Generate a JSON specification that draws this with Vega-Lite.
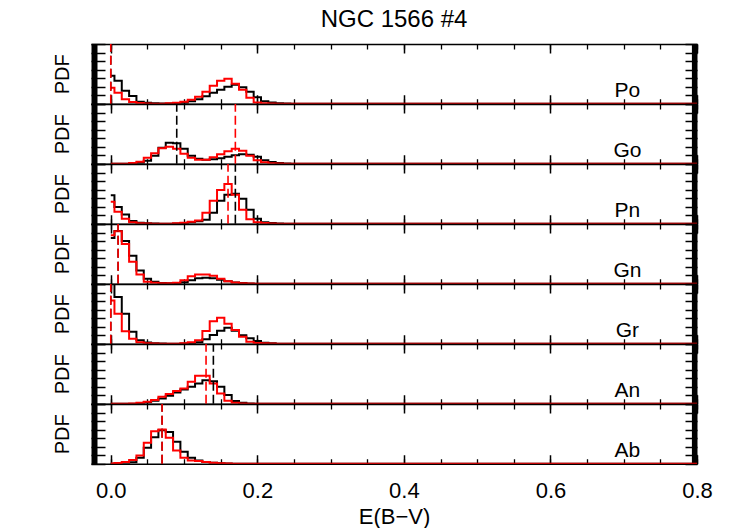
{
"$schema": "https://vega.github.io/schema/vega-lite/v6.json",
"padding": {"left": 52, "top": 8, "right": 5, "bottom": 5},
"title": {"text": "NGC 1566 #4", "fontSize": 24, "fontWeight": "normal", "font": "Liberation Sans", "color": "#000000", "offset": 11, "anchor": "middle", "frame": "group"},
"spacing": 0,
"bounds": "flush",
"config": {"view": {"stroke": null}, "font": "Liberation Sans", "axis": {"grid": false}},
"datasets": {
"lab": [{"p": "Po"}, {"p": "Go"}, {"p": "Pn"}, {"p": "Gn"}, {"p": "Gr"}, {"p": "An"}, {"p": "Ab"}],
"d": [
{"p": "Po", "s": "b", "v": 0.0}, {"p": "Po", "s": "r", "v": 0.0},
{"p": "Go", "s": "b", "v": 0.09}, {"p": "Go", "s": "r", "v": 0.17},
{"p": "Pn", "s": "b", "v": 0.17}, {"p": "Pn", "s": "r", "v": 0.16},
{"p": "Gn", "s": "b", "v": 0.01}, {"p": "Gn", "s": "r", "v": 0.01},
{"p": "Gr", "s": "b", "v": 0.0}, {"p": "Gr", "s": "r", "v": 0.0},
{"p": "An", "s": "b", "v": 0.14}, {"p": "An", "s": "r", "v": 0.13},
{"p": "Ab", "s": "b", "v": 0.07}, {"p": "Ab", "s": "r", "v": 0.07}
],
"h": [
{"p":"Po","s":"b","x":0,"y":28},{"p":"Po","s":"b","x":0.01,"y":23},{"p":"Po","s":"b","x":0.02,"y":13},{"p":"Po","s":"b","x":0.03,"y":7.7},{"p":"Po","s":"b","x":0.04,"y":2},{"p":"Po","s":"b","x":0.05,"y":1},{"p":"Po","s":"b","x":0.06,"y":0.5},{"p":"Po","s":"b","x":0.07,"y":0.3},{"p":"Po","s":"b","x":0.08,"y":0.3},{"p":"Po","s":"b","x":0.09,"y":0.5},{"p":"Po","s":"b","x":0.1,"y":1},{"p":"Po","s":"b","x":0.11,"y":2.5},{"p":"Po","s":"b","x":0.12,"y":4.5},{"p":"Po","s":"b","x":0.13,"y":7.5},{"p":"Po","s":"b","x":0.14,"y":11},{"p":"Po","s":"b","x":0.15,"y":14},{"p":"Po","s":"b","x":0.16,"y":17},{"p":"Po","s":"b","x":0.17,"y":19},{"p":"Po","s":"b","x":0.18,"y":16.5},{"p":"Po","s":"b","x":0.19,"y":12},{"p":"Po","s":"b","x":0.2,"y":6.5},{"p":"Po","s":"b","x":0.21,"y":2.5},{"p":"Po","s":"b","x":0.22,"y":1.2},{"p":"Po","s":"b","x":0.23,"y":0.5},{"p":"Po","s":"b","x":0.24,"y":0.2},{"p":"Po","s":"b","x":0.25,"y":0},{"p":"Po","s":"b","x":0.8,"y":0},
{"p":"Po","s":"r","x":0,"y":16},{"p":"Po","s":"r","x":0.01,"y":11},{"p":"Po","s":"r","x":0.02,"y":4.5},{"p":"Po","s":"r","x":0.03,"y":1.7},{"p":"Po","s":"r","x":0.04,"y":0.8},{"p":"Po","s":"r","x":0.05,"y":0.3},{"p":"Po","s":"r","x":0.06,"y":0.1},{"p":"Po","s":"r","x":0.07,"y":0.1},{"p":"Po","s":"r","x":0.08,"y":0.5},{"p":"Po","s":"r","x":0.09,"y":1},{"p":"Po","s":"r","x":0.1,"y":2},{"p":"Po","s":"r","x":0.11,"y":4},{"p":"Po","s":"r","x":0.12,"y":7},{"p":"Po","s":"r","x":0.13,"y":12},{"p":"Po","s":"r","x":0.14,"y":18},{"p":"Po","s":"r","x":0.15,"y":23},{"p":"Po","s":"r","x":0.16,"y":25},{"p":"Po","s":"r","x":0.17,"y":20},{"p":"Po","s":"r","x":0.18,"y":14},{"p":"Po","s":"r","x":0.19,"y":6},{"p":"Po","s":"r","x":0.2,"y":1.2},{"p":"Po","s":"r","x":0.21,"y":0.6},{"p":"Po","s":"r","x":0.22,"y":0.3},{"p":"Po","s":"r","x":0.23,"y":0},{"p":"Po","s":"r","x":0.8,"y":0},
{"p":"Go","s":"b","x":0,"y":0},{"p":"Go","s":"b","x":0.02,"y":0},{"p":"Go","s":"b","x":0.03,"y":0.3},{"p":"Go","s":"b","x":0.04,"y":1},{"p":"Go","s":"b","x":0.05,"y":3},{"p":"Go","s":"b","x":0.06,"y":8},{"p":"Go","s":"b","x":0.07,"y":16},{"p":"Go","s":"b","x":0.08,"y":21},{"p":"Go","s":"b","x":0.09,"y":20.5},{"p":"Go","s":"b","x":0.1,"y":15},{"p":"Go","s":"b","x":0.11,"y":8},{"p":"Go","s":"b","x":0.12,"y":5},{"p":"Go","s":"b","x":0.13,"y":4},{"p":"Go","s":"b","x":0.14,"y":4.5},{"p":"Go","s":"b","x":0.15,"y":5.5},{"p":"Go","s":"b","x":0.16,"y":7},{"p":"Go","s":"b","x":0.17,"y":8.5},{"p":"Go","s":"b","x":0.18,"y":9.5},{"p":"Go","s":"b","x":0.19,"y":9},{"p":"Go","s":"b","x":0.2,"y":7},{"p":"Go","s":"b","x":0.21,"y":3.5},{"p":"Go","s":"b","x":0.22,"y":1.8},{"p":"Go","s":"b","x":0.23,"y":0.8},{"p":"Go","s":"b","x":0.24,"y":0.3},{"p":"Go","s":"b","x":0.25,"y":0},{"p":"Go","s":"b","x":0.8,"y":0},
{"p":"Go","s":"r","x":0,"y":0},{"p":"Go","s":"r","x":0.02,"y":0},{"p":"Go","s":"r","x":0.03,"y":0.7},{"p":"Go","s":"r","x":0.04,"y":2},{"p":"Go","s":"r","x":0.05,"y":6},{"p":"Go","s":"r","x":0.06,"y":10.5},{"p":"Go","s":"r","x":0.07,"y":15.5},{"p":"Go","s":"r","x":0.08,"y":17},{"p":"Go","s":"r","x":0.09,"y":15},{"p":"Go","s":"r","x":0.1,"y":10},{"p":"Go","s":"r","x":0.11,"y":6},{"p":"Go","s":"r","x":0.12,"y":4},{"p":"Go","s":"r","x":0.13,"y":4},{"p":"Go","s":"r","x":0.14,"y":6.5},{"p":"Go","s":"r","x":0.15,"y":9.5},{"p":"Go","s":"r","x":0.16,"y":12.5},{"p":"Go","s":"r","x":0.17,"y":15},{"p":"Go","s":"r","x":0.18,"y":13},{"p":"Go","s":"r","x":0.19,"y":8},{"p":"Go","s":"r","x":0.2,"y":3.5},{"p":"Go","s":"r","x":0.21,"y":1.5},{"p":"Go","s":"r","x":0.22,"y":0.6},{"p":"Go","s":"r","x":0.23,"y":0.2},{"p":"Go","s":"r","x":0.24,"y":0},{"p":"Go","s":"r","x":0.8,"y":0},
{"p":"Pn","s":"b","x":0,"y":28.7},{"p":"Pn","s":"b","x":0.01,"y":16.7},{"p":"Pn","s":"b","x":0.02,"y":9.3},{"p":"Pn","s":"b","x":0.03,"y":2.7},{"p":"Pn","s":"b","x":0.04,"y":1},{"p":"Pn","s":"b","x":0.05,"y":0.5},{"p":"Pn","s":"b","x":0.06,"y":0.2},{"p":"Pn","s":"b","x":0.07,"y":0},{"p":"Pn","s":"b","x":0.08,"y":0},{"p":"Pn","s":"b","x":0.09,"y":0.2},{"p":"Pn","s":"b","x":0.1,"y":0.7},{"p":"Pn","s":"b","x":0.11,"y":1.5},{"p":"Pn","s":"b","x":0.12,"y":2.5},{"p":"Pn","s":"b","x":0.13,"y":4},{"p":"Pn","s":"b","x":0.14,"y":11},{"p":"Pn","s":"b","x":0.15,"y":23},{"p":"Pn","s":"b","x":0.16,"y":29},{"p":"Pn","s":"b","x":0.17,"y":30},{"p":"Pn","s":"b","x":0.18,"y":25},{"p":"Pn","s":"b","x":0.19,"y":14},{"p":"Pn","s":"b","x":0.2,"y":5},{"p":"Pn","s":"b","x":0.21,"y":1.5},{"p":"Pn","s":"b","x":0.22,"y":0.7},{"p":"Pn","s":"b","x":0.23,"y":0.2},{"p":"Pn","s":"b","x":0.24,"y":0},{"p":"Pn","s":"b","x":0.8,"y":0},
{"p":"Pn","s":"r","x":0,"y":22},{"p":"Pn","s":"r","x":0.01,"y":12},{"p":"Pn","s":"r","x":0.02,"y":5},{"p":"Pn","s":"r","x":0.03,"y":1.5},{"p":"Pn","s":"r","x":0.04,"y":0.5},{"p":"Pn","s":"r","x":0.05,"y":0.2},{"p":"Pn","s":"r","x":0.06,"y":0},{"p":"Pn","s":"r","x":0.08,"y":0},{"p":"Pn","s":"r","x":0.09,"y":0.4},{"p":"Pn","s":"r","x":0.1,"y":1},{"p":"Pn","s":"r","x":0.11,"y":2},{"p":"Pn","s":"r","x":0.12,"y":3.3},{"p":"Pn","s":"r","x":0.13,"y":11},{"p":"Pn","s":"r","x":0.14,"y":23},{"p":"Pn","s":"r","x":0.15,"y":34},{"p":"Pn","s":"r","x":0.16,"y":40},{"p":"Pn","s":"r","x":0.17,"y":29},{"p":"Pn","s":"r","x":0.18,"y":14},{"p":"Pn","s":"r","x":0.19,"y":4.5},{"p":"Pn","s":"r","x":0.2,"y":1.5},{"p":"Pn","s":"r","x":0.21,"y":0.7},{"p":"Pn","s":"r","x":0.22,"y":0.3},{"p":"Pn","s":"r","x":0.23,"y":0},{"p":"Pn","s":"r","x":0.8,"y":0},
{"p":"Gn","s":"b","x":0,"y":46},{"p":"Gn","s":"b","x":0.01,"y":53},{"p":"Gn","s":"b","x":0.02,"y":43},{"p":"Gn","s":"b","x":0.03,"y":28},{"p":"Gn","s":"b","x":0.04,"y":13.3},{"p":"Gn","s":"b","x":0.05,"y":5},{"p":"Gn","s":"b","x":0.06,"y":2},{"p":"Gn","s":"b","x":0.07,"y":0.8},{"p":"Gn","s":"b","x":0.08,"y":0.4},{"p":"Gn","s":"b","x":0.09,"y":0.5},{"p":"Gn","s":"b","x":0.1,"y":1.5},{"p":"Gn","s":"b","x":0.11,"y":3.5},{"p":"Gn","s":"b","x":0.12,"y":5.5},{"p":"Gn","s":"b","x":0.13,"y":6},{"p":"Gn","s":"b","x":0.14,"y":5.5},{"p":"Gn","s":"b","x":0.15,"y":4},{"p":"Gn","s":"b","x":0.16,"y":2.5},{"p":"Gn","s":"b","x":0.17,"y":1.3},{"p":"Gn","s":"b","x":0.18,"y":0.7},{"p":"Gn","s":"b","x":0.19,"y":0.3},{"p":"Gn","s":"b","x":0.2,"y":0.1},{"p":"Gn","s":"b","x":0.21,"y":0},{"p":"Gn","s":"b","x":0.8,"y":0},
{"p":"Gn","s":"r","x":0,"y":48.7},{"p":"Gn","s":"r","x":0.01,"y":52.7},{"p":"Gn","s":"r","x":0.02,"y":40},{"p":"Gn","s":"r","x":0.03,"y":22},{"p":"Gn","s":"r","x":0.04,"y":9.3},{"p":"Gn","s":"r","x":0.05,"y":2},{"p":"Gn","s":"r","x":0.06,"y":1},{"p":"Gn","s":"r","x":0.07,"y":0.5},{"p":"Gn","s":"r","x":0.08,"y":0.4},{"p":"Gn","s":"r","x":0.09,"y":1},{"p":"Gn","s":"r","x":0.1,"y":3.5},{"p":"Gn","s":"r","x":0.11,"y":7.5},{"p":"Gn","s":"r","x":0.12,"y":9.3},{"p":"Gn","s":"r","x":0.13,"y":9.3},{"p":"Gn","s":"r","x":0.14,"y":8},{"p":"Gn","s":"r","x":0.15,"y":5},{"p":"Gn","s":"r","x":0.16,"y":2.5},{"p":"Gn","s":"r","x":0.17,"y":1.3},{"p":"Gn","s":"r","x":0.18,"y":0.6},{"p":"Gn","s":"r","x":0.19,"y":0.3},{"p":"Gn","s":"r","x":0.2,"y":0},{"p":"Gn","s":"r","x":0.8,"y":0},
{"p":"Gr","s":"b","x":0,"y":65},{"p":"Gr","s":"b","x":0.01,"y":47},{"p":"Gr","s":"b","x":0.02,"y":30},{"p":"Gr","s":"b","x":0.03,"y":12},{"p":"Gr","s":"b","x":0.04,"y":3.5},{"p":"Gr","s":"b","x":0.05,"y":1.3},{"p":"Gr","s":"b","x":0.06,"y":0.5},{"p":"Gr","s":"b","x":0.07,"y":0.2},{"p":"Gr","s":"b","x":0.08,"y":0},{"p":"Gr","s":"b","x":0.09,"y":0},{"p":"Gr","s":"b","x":0.1,"y":0.3},{"p":"Gr","s":"b","x":0.11,"y":0.7},{"p":"Gr","s":"b","x":0.12,"y":1.5},{"p":"Gr","s":"b","x":0.13,"y":4.5},{"p":"Gr","s":"b","x":0.14,"y":8.7},{"p":"Gr","s":"b","x":0.15,"y":13},{"p":"Gr","s":"b","x":0.16,"y":16},{"p":"Gr","s":"b","x":0.17,"y":13},{"p":"Gr","s":"b","x":0.18,"y":8.5},{"p":"Gr","s":"b","x":0.19,"y":5.5},{"p":"Gr","s":"b","x":0.2,"y":2.7},{"p":"Gr","s":"b","x":0.21,"y":1},{"p":"Gr","s":"b","x":0.22,"y":0.4},{"p":"Gr","s":"b","x":0.23,"y":0.1},{"p":"Gr","s":"b","x":0.24,"y":0},{"p":"Gr","s":"b","x":0.8,"y":0},
{"p":"Gr","s":"r","x":0,"y":43.5},{"p":"Gr","s":"r","x":0.01,"y":30},{"p":"Gr","s":"r","x":0.02,"y":12.5},{"p":"Gr","s":"r","x":0.03,"y":5},{"p":"Gr","s":"r","x":0.04,"y":1.5},{"p":"Gr","s":"r","x":0.05,"y":0.5},{"p":"Gr","s":"r","x":0.06,"y":0.3},{"p":"Gr","s":"r","x":0.07,"y":0},{"p":"Gr","s":"r","x":0.09,"y":0},{"p":"Gr","s":"r","x":0.1,"y":0.6},{"p":"Gr","s":"r","x":0.11,"y":1.5},{"p":"Gr","s":"r","x":0.12,"y":3.5},{"p":"Gr","s":"r","x":0.13,"y":12.7},{"p":"Gr","s":"r","x":0.14,"y":22.7},{"p":"Gr","s":"r","x":0.15,"y":26},{"p":"Gr","s":"r","x":0.16,"y":20},{"p":"Gr","s":"r","x":0.17,"y":13.7},{"p":"Gr","s":"r","x":0.18,"y":7},{"p":"Gr","s":"r","x":0.19,"y":2},{"p":"Gr","s":"r","x":0.2,"y":0.8},{"p":"Gr","s":"r","x":0.21,"y":0.4},{"p":"Gr","s":"r","x":0.22,"y":0.2},{"p":"Gr","s":"r","x":0.23,"y":0},{"p":"Gr","s":"r","x":0.8,"y":0},
{"p":"An","s":"b","x":0,"y":0},{"p":"An","s":"b","x":0.04,"y":0},{"p":"An","s":"b","x":0.05,"y":1.5},{"p":"An","s":"b","x":0.06,"y":3},{"p":"An","s":"b","x":0.07,"y":5.3},{"p":"An","s":"b","x":0.08,"y":8},{"p":"An","s":"b","x":0.09,"y":11.3},{"p":"An","s":"b","x":0.1,"y":14.3},{"p":"An","s":"b","x":0.11,"y":17},{"p":"An","s":"b","x":0.12,"y":20.3},{"p":"An","s":"b","x":0.13,"y":23.7},{"p":"An","s":"b","x":0.14,"y":22.7},{"p":"An","s":"b","x":0.15,"y":17},{"p":"An","s":"b","x":0.16,"y":8.7},{"p":"An","s":"b","x":0.17,"y":2.7},{"p":"An","s":"b","x":0.18,"y":1},{"p":"An","s":"b","x":0.19,"y":0.3},{"p":"An","s":"b","x":0.2,"y":0},{"p":"An","s":"b","x":0.8,"y":0},
{"p":"An","s":"r","x":0,"y":0},{"p":"An","s":"r","x":0.02,"y":0},{"p":"An","s":"r","x":0.03,"y":0.3},{"p":"An","s":"r","x":0.04,"y":1},{"p":"An","s":"r","x":0.05,"y":2},{"p":"An","s":"r","x":0.06,"y":3.7},{"p":"An","s":"r","x":0.07,"y":7},{"p":"An","s":"r","x":0.08,"y":9.7},{"p":"An","s":"r","x":0.09,"y":12.7},{"p":"An","s":"r","x":0.1,"y":15.3},{"p":"An","s":"r","x":0.11,"y":22},{"p":"An","s":"r","x":0.12,"y":28},{"p":"An","s":"r","x":0.13,"y":28},{"p":"An","s":"r","x":0.14,"y":20.3},{"p":"An","s":"r","x":0.15,"y":10.3},{"p":"An","s":"r","x":0.16,"y":3},{"p":"An","s":"r","x":0.17,"y":1},{"p":"An","s":"r","x":0.18,"y":0.3},{"p":"An","s":"r","x":0.19,"y":0},{"p":"An","s":"r","x":0.8,"y":0},
{"p":"Ab","s":"b","x":0,"y":0},{"p":"Ab","s":"b","x":0.01,"y":0.3},{"p":"Ab","s":"b","x":0.02,"y":1},{"p":"Ab","s":"b","x":0.03,"y":1.5},{"p":"Ab","s":"b","x":0.04,"y":6},{"p":"Ab","s":"b","x":0.05,"y":16},{"p":"Ab","s":"b","x":0.06,"y":26.7},{"p":"Ab","s":"b","x":0.07,"y":33.7},{"p":"Ab","s":"b","x":0.08,"y":32},{"p":"Ab","s":"b","x":0.09,"y":22},{"p":"Ab","s":"b","x":0.1,"y":12},{"p":"Ab","s":"b","x":0.11,"y":6},{"p":"Ab","s":"b","x":0.12,"y":3.3},{"p":"Ab","s":"b","x":0.13,"y":1.7},{"p":"Ab","s":"b","x":0.14,"y":1},{"p":"Ab","s":"b","x":0.15,"y":0.5},{"p":"Ab","s":"b","x":0.16,"y":0.2},{"p":"Ab","s":"b","x":0.17,"y":0},{"p":"Ab","s":"b","x":0.8,"y":0},
{"p":"Ab","s":"r","x":0,"y":0.3},{"p":"Ab","s":"r","x":0.01,"y":0.8},{"p":"Ab","s":"r","x":0.02,"y":1.7},{"p":"Ab","s":"r","x":0.03,"y":3.7},{"p":"Ab","s":"r","x":0.04,"y":8.3},{"p":"Ab","s":"r","x":0.05,"y":21},{"p":"Ab","s":"r","x":0.06,"y":32.7},{"p":"Ab","s":"r","x":0.07,"y":34.3},{"p":"Ab","s":"r","x":0.08,"y":26},{"p":"Ab","s":"r","x":0.09,"y":13.3},{"p":"Ab","s":"r","x":0.1,"y":6},{"p":"Ab","s":"r","x":0.11,"y":3.3},{"p":"Ab","s":"r","x":0.12,"y":2.7},{"p":"Ab","s":"r","x":0.13,"y":1.7},{"p":"Ab","s":"r","x":0.14,"y":1},{"p":"Ab","s":"r","x":0.15,"y":0.5},{"p":"Ab","s":"r","x":0.16,"y":0.2},{"p":"Ab","s":"r","x":0.17,"y":0},{"p":"Ab","s":"r","x":0.8,"y":0}
]
},
"vconcat": [
{"width": 606, "height": 59.74, "resolve": {"axis": {"x": "independent", "y": "independent"}}, "layer": [
 {"data": {"name": "h"}, "transform": [{"filter": "datum.p==='Po'&&datum.s==='b'"}], "mark": {"type": "line", "interpolate": "step", "color": "#000000", "strokeWidth": 2, "clip": true},
  "encoding": {"x": {"field": "x", "type": "quantitative", "scale": {"domain": [-0.027, 0.8], "nice": false, "zero": false}, "axis": {"orient": "bottom", "values": [0,0.05,0.1,0.15,0.2,0.25,0.3,0.35,0.4,0.45,0.5,0.55,0.6,0.65,0.7,0.75,0.8], "tickSize": -5, "tickWidth": 1.3, "tickColor": "#000000", "domain": true, "domainColor": "#000000", "domainWidth": 1.6, "labels": false, "title": null, "grid": false}},
   "y": {"field": "y", "type": "quantitative", "scale": {"domain": [0, 60], "nice": false, "zero": false}, "axis": {"orient": "left", "offset": -3, "domain": true, "domainWidth": 6, "domainColor": "#000000", "ticks": false, "labels": false, "grid": false, "title": "PDF", "titleFont": "Liberation Sans", "titleFontSize": 20, "titleFontWeight": "normal", "titleColor": "#000000", "titlePadding": 22}}}},
 {"data": {"name": "h"}, "transform": [{"filter": "datum.p==='Po'&&datum.s==='r'"}], "mark": {"type": "line", "interpolate": "step", "color": "#ff0000", "strokeWidth": 2, "clip": true},
  "encoding": {"x": {"field": "x", "type": "quantitative", "scale": {"domain": [-0.027, 0.8], "nice": false, "zero": false}, "axis": {"orient": "top", "values": [0,0.05,0.1,0.15,0.2,0.25,0.3,0.35,0.4,0.45,0.5,0.55,0.6,0.65,0.7,0.75,0.8], "tickSize": -5, "tickWidth": 1.3, "tickColor": "#000000", "domain": true, "domainColor": "#000000", "domainWidth": 1.6, "labels": false, "title": null, "grid": false}},
   "y": {"field": "y", "type": "quantitative", "scale": {"domain": [0, 60], "nice": false, "zero": false}, "axis": {"orient": "right", "offset": -2.8, "domain": true, "domainWidth": 5.6, "domainColor": "#000000", "ticks": false, "labels": false, "grid": false, "title": null}}}},
 {"data": {"name": "d"}, "transform": [{"filter": "datum.p==='Po'&&datum.s==='b'"}], "mark": {"type": "rule", "color": "#000000", "strokeWidth": 1.6, "strokeDash": [9, 4]},
  "encoding": {"x": {"field": "v", "type": "quantitative", "scale": {"domain": [-0.027, 0.8], "nice": false, "zero": false}, "axis": {"orient": "bottom", "values": [0,0.2,0.4,0.6,0.8], "tickSize": -9, "tickWidth": 1.5, "tickColor": "#000000", "domain": false, "labels": false, "title": null, "grid": false}},
   "y": {"datum": 0, "type": "quantitative", "scale": {"domain": [0, 60], "nice": false, "zero": false}, "axis": {"orient": "left", "values": [0,8.57,17.14,25.71,34.29,42.86,51.43,60], "tickSize": -14, "tickWidth": 1.5, "tickColor": "#000000", "domain": false, "labels": false, "grid": false, "title": null}}, "y2": {"datum": 60}}},
 {"data": {"name": "d"}, "transform": [{"filter": "datum.p==='Po'&&datum.s==='r'"}], "mark": {"type": "rule", "color": "#ff0000", "strokeWidth": 1.6, "strokeDash": [9, 4]},
  "encoding": {"x": {"field": "v", "type": "quantitative", "scale": {"domain": [-0.027, 0.8], "nice": false, "zero": false}, "axis": {"orient": "top", "values": [0,0.2,0.4,0.6,0.8], "tickSize": -9, "tickWidth": 1.5, "tickColor": "#000000", "domain": false, "labels": false, "title": null, "grid": false}},
   "y": {"datum": 0, "type": "quantitative", "scale": {"domain": [0, 60], "nice": false, "zero": false}, "axis": {"orient": "right", "values": [0,8.57,17.14,25.71,34.29,42.86,51.43,60], "tickSize": -12, "tickWidth": 1.5, "tickColor": "#000000", "domain": false, "labels": false, "grid": false, "title": null}}, "y2": {"datum": 60}}},
 {"data": {"name": "lab"}, "transform": [{"filter": "datum.p==='Po'"}], "mark": {"type": "text", "font": "Liberation Sans", "fontSize": 21, "color": "#000000", "align": "center", "baseline": "alphabetic"},
  "encoding": {"x": {"datum": 0.705, "type": "quantitative", "scale": {"domain": [-0.027, 0.8], "nice": false, "zero": false}, "axis": null}, "y": {"datum": 7, "type": "quantitative", "scale": {"domain": [0, 60], "nice": false, "zero": false}, "axis": null}, "text": {"field": "p", "type": "nominal"}}}
]},
{"width": 606, "height": 59.74, "resolve": {"axis": {"x": "independent", "y": "independent"}}, "layer": [
 {"data": {"name": "h"}, "transform": [{"filter": "datum.p==='Go'&&datum.s==='b'"}], "mark": {"type": "line", "interpolate": "step", "color": "#000000", "strokeWidth": 2, "clip": true},
  "encoding": {"x": {"field": "x", "type": "quantitative", "scale": {"domain": [-0.027, 0.8], "nice": false, "zero": false}, "axis": {"orient": "bottom", "values": [0,0.05,0.1,0.15,0.2,0.25,0.3,0.35,0.4,0.45,0.5,0.55,0.6,0.65,0.7,0.75,0.8], "tickSize": -5, "tickWidth": 1.3, "tickColor": "#000000", "domain": true, "domainColor": "#000000", "domainWidth": 1.6, "labels": false, "title": null, "grid": false}},
   "y": {"field": "y", "type": "quantitative", "scale": {"domain": [0, 60], "nice": false, "zero": false}, "axis": {"orient": "left", "offset": -3, "domain": true, "domainWidth": 6, "domainColor": "#000000", "ticks": false, "labels": false, "grid": false, "title": "PDF", "titleFont": "Liberation Sans", "titleFontSize": 20, "titleFontWeight": "normal", "titleColor": "#000000", "titlePadding": 22}}}},
 {"data": {"name": "h"}, "transform": [{"filter": "datum.p==='Go'&&datum.s==='r'"}], "mark": {"type": "line", "interpolate": "step", "color": "#ff0000", "strokeWidth": 2, "clip": true},
  "encoding": {"x": {"field": "x", "type": "quantitative", "scale": {"domain": [-0.027, 0.8], "nice": false, "zero": false}, "axis": {"orient": "top", "values": [0,0.05,0.1,0.15,0.2,0.25,0.3,0.35,0.4,0.45,0.5,0.55,0.6,0.65,0.7,0.75,0.8], "tickSize": -5, "tickWidth": 1.3, "tickColor": "#000000", "domain": true, "domainColor": "#000000", "domainWidth": 1.6, "labels": false, "title": null, "grid": false}},
   "y": {"field": "y", "type": "quantitative", "scale": {"domain": [0, 60], "nice": false, "zero": false}, "axis": {"orient": "right", "offset": -2.8, "domain": true, "domainWidth": 5.6, "domainColor": "#000000", "ticks": false, "labels": false, "grid": false, "title": null}}}},
 {"data": {"name": "d"}, "transform": [{"filter": "datum.p==='Go'&&datum.s==='b'"}], "mark": {"type": "rule", "color": "#000000", "strokeWidth": 1.6, "strokeDash": [9, 4]},
  "encoding": {"x": {"field": "v", "type": "quantitative", "scale": {"domain": [-0.027, 0.8], "nice": false, "zero": false}, "axis": {"orient": "bottom", "values": [0,0.2,0.4,0.6,0.8], "tickSize": -9, "tickWidth": 1.5, "tickColor": "#000000", "domain": false, "labels": false, "title": null, "grid": false}},
   "y": {"datum": 0, "type": "quantitative", "scale": {"domain": [0, 60], "nice": false, "zero": false}, "axis": {"orient": "left", "values": [0,8.57,17.14,25.71,34.29,42.86,51.43,60], "tickSize": -14, "tickWidth": 1.5, "tickColor": "#000000", "domain": false, "labels": false, "grid": false, "title": null}}, "y2": {"datum": 60}}},
 {"data": {"name": "d"}, "transform": [{"filter": "datum.p==='Go'&&datum.s==='r'"}], "mark": {"type": "rule", "color": "#ff0000", "strokeWidth": 1.6, "strokeDash": [9, 4]},
  "encoding": {"x": {"field": "v", "type": "quantitative", "scale": {"domain": [-0.027, 0.8], "nice": false, "zero": false}, "axis": {"orient": "top", "values": [0,0.2,0.4,0.6,0.8], "tickSize": -9, "tickWidth": 1.5, "tickColor": "#000000", "domain": false, "labels": false, "title": null, "grid": false}},
   "y": {"datum": 0, "type": "quantitative", "scale": {"domain": [0, 60], "nice": false, "zero": false}, "axis": {"orient": "right", "values": [0,8.57,17.14,25.71,34.29,42.86,51.43,60], "tickSize": -12, "tickWidth": 1.5, "tickColor": "#000000", "domain": false, "labels": false, "grid": false, "title": null}}, "y2": {"datum": 60}}},
 {"data": {"name": "lab"}, "transform": [{"filter": "datum.p==='Go'"}], "mark": {"type": "text", "font": "Liberation Sans", "fontSize": 21, "color": "#000000", "align": "center", "baseline": "alphabetic"},
  "encoding": {"x": {"datum": 0.705, "type": "quantitative", "scale": {"domain": [-0.027, 0.8], "nice": false, "zero": false}, "axis": null}, "y": {"datum": 7, "type": "quantitative", "scale": {"domain": [0, 60], "nice": false, "zero": false}, "axis": null}, "text": {"field": "p", "type": "nominal"}}}
]},
{"width": 606, "height": 59.74, "resolve": {"axis": {"x": "independent", "y": "independent"}}, "layer": [
 {"data": {"name": "h"}, "transform": [{"filter": "datum.p==='Pn'&&datum.s==='b'"}], "mark": {"type": "line", "interpolate": "step", "color": "#000000", "strokeWidth": 2, "clip": true},
  "encoding": {"x": {"field": "x", "type": "quantitative", "scale": {"domain": [-0.027, 0.8], "nice": false, "zero": false}, "axis": {"orient": "bottom", "values": [0,0.05,0.1,0.15,0.2,0.25,0.3,0.35,0.4,0.45,0.5,0.55,0.6,0.65,0.7,0.75,0.8], "tickSize": -5, "tickWidth": 1.3, "tickColor": "#000000", "domain": true, "domainColor": "#000000", "domainWidth": 1.6, "labels": false, "title": null, "grid": false}},
   "y": {"field": "y", "type": "quantitative", "scale": {"domain": [0, 60], "nice": false, "zero": false}, "axis": {"orient": "left", "offset": -3, "domain": true, "domainWidth": 6, "domainColor": "#000000", "ticks": false, "labels": false, "grid": false, "title": "PDF", "titleFont": "Liberation Sans", "titleFontSize": 20, "titleFontWeight": "normal", "titleColor": "#000000", "titlePadding": 22}}}},
 {"data": {"name": "h"}, "transform": [{"filter": "datum.p==='Pn'&&datum.s==='r'"}], "mark": {"type": "line", "interpolate": "step", "color": "#ff0000", "strokeWidth": 2, "clip": true},
  "encoding": {"x": {"field": "x", "type": "quantitative", "scale": {"domain": [-0.027, 0.8], "nice": false, "zero": false}, "axis": {"orient": "top", "values": [0,0.05,0.1,0.15,0.2,0.25,0.3,0.35,0.4,0.45,0.5,0.55,0.6,0.65,0.7,0.75,0.8], "tickSize": -5, "tickWidth": 1.3, "tickColor": "#000000", "domain": true, "domainColor": "#000000", "domainWidth": 1.6, "labels": false, "title": null, "grid": false}},
   "y": {"field": "y", "type": "quantitative", "scale": {"domain": [0, 60], "nice": false, "zero": false}, "axis": {"orient": "right", "offset": -2.8, "domain": true, "domainWidth": 5.6, "domainColor": "#000000", "ticks": false, "labels": false, "grid": false, "title": null}}}},
 {"data": {"name": "d"}, "transform": [{"filter": "datum.p==='Pn'&&datum.s==='b'"}], "mark": {"type": "rule", "color": "#000000", "strokeWidth": 1.6, "strokeDash": [9, 4]},
  "encoding": {"x": {"field": "v", "type": "quantitative", "scale": {"domain": [-0.027, 0.8], "nice": false, "zero": false}, "axis": {"orient": "bottom", "values": [0,0.2,0.4,0.6,0.8], "tickSize": -9, "tickWidth": 1.5, "tickColor": "#000000", "domain": false, "labels": false, "title": null, "grid": false}},
   "y": {"datum": 0, "type": "quantitative", "scale": {"domain": [0, 60], "nice": false, "zero": false}, "axis": {"orient": "left", "values": [0,8.57,17.14,25.71,34.29,42.86,51.43,60], "tickSize": -14, "tickWidth": 1.5, "tickColor": "#000000", "domain": false, "labels": false, "grid": false, "title": null}}, "y2": {"datum": 60}}},
 {"data": {"name": "d"}, "transform": [{"filter": "datum.p==='Pn'&&datum.s==='r'"}], "mark": {"type": "rule", "color": "#ff0000", "strokeWidth": 1.6, "strokeDash": [9, 4]},
  "encoding": {"x": {"field": "v", "type": "quantitative", "scale": {"domain": [-0.027, 0.8], "nice": false, "zero": false}, "axis": {"orient": "top", "values": [0,0.2,0.4,0.6,0.8], "tickSize": -9, "tickWidth": 1.5, "tickColor": "#000000", "domain": false, "labels": false, "title": null, "grid": false}},
   "y": {"datum": 0, "type": "quantitative", "scale": {"domain": [0, 60], "nice": false, "zero": false}, "axis": {"orient": "right", "values": [0,8.57,17.14,25.71,34.29,42.86,51.43,60], "tickSize": -12, "tickWidth": 1.5, "tickColor": "#000000", "domain": false, "labels": false, "grid": false, "title": null}}, "y2": {"datum": 60}}},
 {"data": {"name": "lab"}, "transform": [{"filter": "datum.p==='Pn'"}], "mark": {"type": "text", "font": "Liberation Sans", "fontSize": 21, "color": "#000000", "align": "center", "baseline": "alphabetic"},
  "encoding": {"x": {"datum": 0.705, "type": "quantitative", "scale": {"domain": [-0.027, 0.8], "nice": false, "zero": false}, "axis": null}, "y": {"datum": 7, "type": "quantitative", "scale": {"domain": [0, 60], "nice": false, "zero": false}, "axis": null}, "text": {"field": "p", "type": "nominal"}}}
]},
{"width": 606, "height": 59.74, "resolve": {"axis": {"x": "independent", "y": "independent"}}, "layer": [
 {"data": {"name": "h"}, "transform": [{"filter": "datum.p==='Gn'&&datum.s==='b'"}], "mark": {"type": "line", "interpolate": "step", "color": "#000000", "strokeWidth": 2, "clip": true},
  "encoding": {"x": {"field": "x", "type": "quantitative", "scale": {"domain": [-0.027, 0.8], "nice": false, "zero": false}, "axis": {"orient": "bottom", "values": [0,0.05,0.1,0.15,0.2,0.25,0.3,0.35,0.4,0.45,0.5,0.55,0.6,0.65,0.7,0.75,0.8], "tickSize": -5, "tickWidth": 1.3, "tickColor": "#000000", "domain": true, "domainColor": "#000000", "domainWidth": 1.6, "labels": false, "title": null, "grid": false}},
   "y": {"field": "y", "type": "quantitative", "scale": {"domain": [0, 60], "nice": false, "zero": false}, "axis": {"orient": "left", "offset": -3, "domain": true, "domainWidth": 6, "domainColor": "#000000", "ticks": false, "labels": false, "grid": false, "title": "PDF", "titleFont": "Liberation Sans", "titleFontSize": 20, "titleFontWeight": "normal", "titleColor": "#000000", "titlePadding": 22}}}},
 {"data": {"name": "h"}, "transform": [{"filter": "datum.p==='Gn'&&datum.s==='r'"}], "mark": {"type": "line", "interpolate": "step", "color": "#ff0000", "strokeWidth": 2, "clip": true},
  "encoding": {"x": {"field": "x", "type": "quantitative", "scale": {"domain": [-0.027, 0.8], "nice": false, "zero": false}, "axis": {"orient": "top", "values": [0,0.05,0.1,0.15,0.2,0.25,0.3,0.35,0.4,0.45,0.5,0.55,0.6,0.65,0.7,0.75,0.8], "tickSize": -5, "tickWidth": 1.3, "tickColor": "#000000", "domain": true, "domainColor": "#000000", "domainWidth": 1.6, "labels": false, "title": null, "grid": false}},
   "y": {"field": "y", "type": "quantitative", "scale": {"domain": [0, 60], "nice": false, "zero": false}, "axis": {"orient": "right", "offset": -2.8, "domain": true, "domainWidth": 5.6, "domainColor": "#000000", "ticks": false, "labels": false, "grid": false, "title": null}}}},
 {"data": {"name": "d"}, "transform": [{"filter": "datum.p==='Gn'&&datum.s==='b'"}], "mark": {"type": "rule", "color": "#000000", "strokeWidth": 1.6, "strokeDash": [9, 4]},
  "encoding": {"x": {"field": "v", "type": "quantitative", "scale": {"domain": [-0.027, 0.8], "nice": false, "zero": false}, "axis": {"orient": "bottom", "values": [0,0.2,0.4,0.6,0.8], "tickSize": -9, "tickWidth": 1.5, "tickColor": "#000000", "domain": false, "labels": false, "title": null, "grid": false}},
   "y": {"datum": 0, "type": "quantitative", "scale": {"domain": [0, 60], "nice": false, "zero": false}, "axis": {"orient": "left", "values": [0,8.57,17.14,25.71,34.29,42.86,51.43,60], "tickSize": -14, "tickWidth": 1.5, "tickColor": "#000000", "domain": false, "labels": false, "grid": false, "title": null}}, "y2": {"datum": 60}}},
 {"data": {"name": "d"}, "transform": [{"filter": "datum.p==='Gn'&&datum.s==='r'"}], "mark": {"type": "rule", "color": "#ff0000", "strokeWidth": 1.6, "strokeDash": [9, 4]},
  "encoding": {"x": {"field": "v", "type": "quantitative", "scale": {"domain": [-0.027, 0.8], "nice": false, "zero": false}, "axis": {"orient": "top", "values": [0,0.2,0.4,0.6,0.8], "tickSize": -9, "tickWidth": 1.5, "tickColor": "#000000", "domain": false, "labels": false, "title": null, "grid": false}},
   "y": {"datum": 0, "type": "quantitative", "scale": {"domain": [0, 60], "nice": false, "zero": false}, "axis": {"orient": "right", "values": [0,8.57,17.14,25.71,34.29,42.86,51.43,60], "tickSize": -12, "tickWidth": 1.5, "tickColor": "#000000", "domain": false, "labels": false, "grid": false, "title": null}}, "y2": {"datum": 60}}},
 {"data": {"name": "lab"}, "transform": [{"filter": "datum.p==='Gn'"}], "mark": {"type": "text", "font": "Liberation Sans", "fontSize": 21, "color": "#000000", "align": "center", "baseline": "alphabetic"},
  "encoding": {"x": {"datum": 0.705, "type": "quantitative", "scale": {"domain": [-0.027, 0.8], "nice": false, "zero": false}, "axis": null}, "y": {"datum": 7, "type": "quantitative", "scale": {"domain": [0, 60], "nice": false, "zero": false}, "axis": null}, "text": {"field": "p", "type": "nominal"}}}
]},
{"width": 606, "height": 59.74, "resolve": {"axis": {"x": "independent", "y": "independent"}}, "layer": [
 {"data": {"name": "h"}, "transform": [{"filter": "datum.p==='Gr'&&datum.s==='b'"}], "mark": {"type": "line", "interpolate": "step", "color": "#000000", "strokeWidth": 2, "clip": true},
  "encoding": {"x": {"field": "x", "type": "quantitative", "scale": {"domain": [-0.027, 0.8], "nice": false, "zero": false}, "axis": {"orient": "bottom", "values": [0,0.05,0.1,0.15,0.2,0.25,0.3,0.35,0.4,0.45,0.5,0.55,0.6,0.65,0.7,0.75,0.8], "tickSize": -5, "tickWidth": 1.3, "tickColor": "#000000", "domain": true, "domainColor": "#000000", "domainWidth": 1.6, "labels": false, "title": null, "grid": false}},
   "y": {"field": "y", "type": "quantitative", "scale": {"domain": [0, 60], "nice": false, "zero": false}, "axis": {"orient": "left", "offset": -3, "domain": true, "domainWidth": 6, "domainColor": "#000000", "ticks": false, "labels": false, "grid": false, "title": "PDF", "titleFont": "Liberation Sans", "titleFontSize": 20, "titleFontWeight": "normal", "titleColor": "#000000", "titlePadding": 22}}}},
 {"data": {"name": "h"}, "transform": [{"filter": "datum.p==='Gr'&&datum.s==='r'"}], "mark": {"type": "line", "interpolate": "step", "color": "#ff0000", "strokeWidth": 2, "clip": true},
  "encoding": {"x": {"field": "x", "type": "quantitative", "scale": {"domain": [-0.027, 0.8], "nice": false, "zero": false}, "axis": {"orient": "top", "values": [0,0.05,0.1,0.15,0.2,0.25,0.3,0.35,0.4,0.45,0.5,0.55,0.6,0.65,0.7,0.75,0.8], "tickSize": -5, "tickWidth": 1.3, "tickColor": "#000000", "domain": true, "domainColor": "#000000", "domainWidth": 1.6, "labels": false, "title": null, "grid": false}},
   "y": {"field": "y", "type": "quantitative", "scale": {"domain": [0, 60], "nice": false, "zero": false}, "axis": {"orient": "right", "offset": -2.8, "domain": true, "domainWidth": 5.6, "domainColor": "#000000", "ticks": false, "labels": false, "grid": false, "title": null}}}},
 {"data": {"name": "d"}, "transform": [{"filter": "datum.p==='Gr'&&datum.s==='b'"}], "mark": {"type": "rule", "color": "#000000", "strokeWidth": 1.6, "strokeDash": [9, 4]},
  "encoding": {"x": {"field": "v", "type": "quantitative", "scale": {"domain": [-0.027, 0.8], "nice": false, "zero": false}, "axis": {"orient": "bottom", "values": [0,0.2,0.4,0.6,0.8], "tickSize": -9, "tickWidth": 1.5, "tickColor": "#000000", "domain": false, "labels": false, "title": null, "grid": false}},
   "y": {"datum": 0, "type": "quantitative", "scale": {"domain": [0, 60], "nice": false, "zero": false}, "axis": {"orient": "left", "values": [0,8.57,17.14,25.71,34.29,42.86,51.43,60], "tickSize": -14, "tickWidth": 1.5, "tickColor": "#000000", "domain": false, "labels": false, "grid": false, "title": null}}, "y2": {"datum": 60}}},
 {"data": {"name": "d"}, "transform": [{"filter": "datum.p==='Gr'&&datum.s==='r'"}], "mark": {"type": "rule", "color": "#ff0000", "strokeWidth": 1.6, "strokeDash": [9, 4]},
  "encoding": {"x": {"field": "v", "type": "quantitative", "scale": {"domain": [-0.027, 0.8], "nice": false, "zero": false}, "axis": {"orient": "top", "values": [0,0.2,0.4,0.6,0.8], "tickSize": -9, "tickWidth": 1.5, "tickColor": "#000000", "domain": false, "labels": false, "title": null, "grid": false}},
   "y": {"datum": 0, "type": "quantitative", "scale": {"domain": [0, 60], "nice": false, "zero": false}, "axis": {"orient": "right", "values": [0,8.57,17.14,25.71,34.29,42.86,51.43,60], "tickSize": -12, "tickWidth": 1.5, "tickColor": "#000000", "domain": false, "labels": false, "grid": false, "title": null}}, "y2": {"datum": 60}}},
 {"data": {"name": "lab"}, "transform": [{"filter": "datum.p==='Gr'"}], "mark": {"type": "text", "font": "Liberation Sans", "fontSize": 21, "color": "#000000", "align": "center", "baseline": "alphabetic"},
  "encoding": {"x": {"datum": 0.705, "type": "quantitative", "scale": {"domain": [-0.027, 0.8], "nice": false, "zero": false}, "axis": null}, "y": {"datum": 7, "type": "quantitative", "scale": {"domain": [0, 60], "nice": false, "zero": false}, "axis": null}, "text": {"field": "p", "type": "nominal"}}}
]},
{"width": 606, "height": 59.74, "resolve": {"axis": {"x": "independent", "y": "independent"}}, "layer": [
 {"data": {"name": "h"}, "transform": [{"filter": "datum.p==='An'&&datum.s==='b'"}], "mark": {"type": "line", "interpolate": "step", "color": "#000000", "strokeWidth": 2, "clip": true},
  "encoding": {"x": {"field": "x", "type": "quantitative", "scale": {"domain": [-0.027, 0.8], "nice": false, "zero": false}, "axis": {"orient": "bottom", "values": [0,0.05,0.1,0.15,0.2,0.25,0.3,0.35,0.4,0.45,0.5,0.55,0.6,0.65,0.7,0.75,0.8], "tickSize": -5, "tickWidth": 1.3, "tickColor": "#000000", "domain": true, "domainColor": "#000000", "domainWidth": 1.6, "labels": false, "title": null, "grid": false}},
   "y": {"field": "y", "type": "quantitative", "scale": {"domain": [0, 60], "nice": false, "zero": false}, "axis": {"orient": "left", "offset": -3, "domain": true, "domainWidth": 6, "domainColor": "#000000", "ticks": false, "labels": false, "grid": false, "title": "PDF", "titleFont": "Liberation Sans", "titleFontSize": 20, "titleFontWeight": "normal", "titleColor": "#000000", "titlePadding": 22}}}},
 {"data": {"name": "h"}, "transform": [{"filter": "datum.p==='An'&&datum.s==='r'"}], "mark": {"type": "line", "interpolate": "step", "color": "#ff0000", "strokeWidth": 2, "clip": true},
  "encoding": {"x": {"field": "x", "type": "quantitative", "scale": {"domain": [-0.027, 0.8], "nice": false, "zero": false}, "axis": {"orient": "top", "values": [0,0.05,0.1,0.15,0.2,0.25,0.3,0.35,0.4,0.45,0.5,0.55,0.6,0.65,0.7,0.75,0.8], "tickSize": -5, "tickWidth": 1.3, "tickColor": "#000000", "domain": true, "domainColor": "#000000", "domainWidth": 1.6, "labels": false, "title": null, "grid": false}},
   "y": {"field": "y", "type": "quantitative", "scale": {"domain": [0, 60], "nice": false, "zero": false}, "axis": {"orient": "right", "offset": -2.8, "domain": true, "domainWidth": 5.6, "domainColor": "#000000", "ticks": false, "labels": false, "grid": false, "title": null}}}},
 {"data": {"name": "d"}, "transform": [{"filter": "datum.p==='An'&&datum.s==='b'"}], "mark": {"type": "rule", "color": "#000000", "strokeWidth": 1.6, "strokeDash": [9, 4]},
  "encoding": {"x": {"field": "v", "type": "quantitative", "scale": {"domain": [-0.027, 0.8], "nice": false, "zero": false}, "axis": {"orient": "bottom", "values": [0,0.2,0.4,0.6,0.8], "tickSize": -9, "tickWidth": 1.5, "tickColor": "#000000", "domain": false, "labels": false, "title": null, "grid": false}},
   "y": {"datum": 0, "type": "quantitative", "scale": {"domain": [0, 60], "nice": false, "zero": false}, "axis": {"orient": "left", "values": [0,8.57,17.14,25.71,34.29,42.86,51.43,60], "tickSize": -14, "tickWidth": 1.5, "tickColor": "#000000", "domain": false, "labels": false, "grid": false, "title": null}}, "y2": {"datum": 60}}},
 {"data": {"name": "d"}, "transform": [{"filter": "datum.p==='An'&&datum.s==='r'"}], "mark": {"type": "rule", "color": "#ff0000", "strokeWidth": 1.6, "strokeDash": [9, 4]},
  "encoding": {"x": {"field": "v", "type": "quantitative", "scale": {"domain": [-0.027, 0.8], "nice": false, "zero": false}, "axis": {"orient": "top", "values": [0,0.2,0.4,0.6,0.8], "tickSize": -9, "tickWidth": 1.5, "tickColor": "#000000", "domain": false, "labels": false, "title": null, "grid": false}},
   "y": {"datum": 0, "type": "quantitative", "scale": {"domain": [0, 60], "nice": false, "zero": false}, "axis": {"orient": "right", "values": [0,8.57,17.14,25.71,34.29,42.86,51.43,60], "tickSize": -12, "tickWidth": 1.5, "tickColor": "#000000", "domain": false, "labels": false, "grid": false, "title": null}}, "y2": {"datum": 60}}},
 {"data": {"name": "lab"}, "transform": [{"filter": "datum.p==='An'"}], "mark": {"type": "text", "font": "Liberation Sans", "fontSize": 21, "color": "#000000", "align": "center", "baseline": "alphabetic"},
  "encoding": {"x": {"datum": 0.705, "type": "quantitative", "scale": {"domain": [-0.027, 0.8], "nice": false, "zero": false}, "axis": null}, "y": {"datum": 7, "type": "quantitative", "scale": {"domain": [0, 60], "nice": false, "zero": false}, "axis": null}, "text": {"field": "p", "type": "nominal"}}}
]},
{"width": 606, "height": 59.74, "resolve": {"axis": {"x": "independent", "y": "independent"}}, "layer": [
 {"data": {"name": "h"}, "transform": [{"filter": "datum.p==='Ab'&&datum.s==='b'"}], "mark": {"type": "line", "interpolate": "step", "color": "#000000", "strokeWidth": 2, "clip": true},
  "encoding": {"x": {"field": "x", "type": "quantitative", "scale": {"domain": [-0.027, 0.8], "nice": false, "zero": false}, "axis": {"orient": "bottom", "values": [0,0.05,0.1,0.15,0.2,0.25,0.3,0.35,0.4,0.45,0.5,0.55,0.6,0.65,0.7,0.75,0.8], "tickSize": -5, "tickWidth": 1.3, "tickColor": "#000000", "domain": true, "domainColor": "#000000", "domainWidth": 1.6, "labels": false, "title": null, "grid": false}},
   "y": {"field": "y", "type": "quantitative", "scale": {"domain": [0, 60], "nice": false, "zero": false}, "axis": {"orient": "left", "offset": -3, "domain": true, "domainWidth": 6, "domainColor": "#000000", "ticks": false, "labels": false, "grid": false, "title": "PDF", "titleFont": "Liberation Sans", "titleFontSize": 20, "titleFontWeight": "normal", "titleColor": "#000000", "titlePadding": 22}}}},
 {"data": {"name": "h"}, "transform": [{"filter": "datum.p==='Ab'&&datum.s==='r'"}], "mark": {"type": "line", "interpolate": "step", "color": "#ff0000", "strokeWidth": 2, "clip": true},
  "encoding": {"x": {"field": "x", "type": "quantitative", "scale": {"domain": [-0.027, 0.8], "nice": false, "zero": false}, "axis": {"orient": "top", "values": [0,0.05,0.1,0.15,0.2,0.25,0.3,0.35,0.4,0.45,0.5,0.55,0.6,0.65,0.7,0.75,0.8], "tickSize": -5, "tickWidth": 1.3, "tickColor": "#000000", "domain": true, "domainColor": "#000000", "domainWidth": 1.6, "labels": false, "title": null, "grid": false}},
   "y": {"field": "y", "type": "quantitative", "scale": {"domain": [0, 60], "nice": false, "zero": false}, "axis": {"orient": "right", "offset": -2.8, "domain": true, "domainWidth": 5.6, "domainColor": "#000000", "ticks": false, "labels": false, "grid": false, "title": null}}}},
 {"data": {"name": "d"}, "transform": [{"filter": "datum.p==='Ab'&&datum.s==='b'"}], "mark": {"type": "rule", "color": "#000000", "strokeWidth": 1.6, "strokeDash": [9, 4]},
  "encoding": {"x": {"field": "v", "type": "quantitative", "scale": {"domain": [-0.027, 0.8], "nice": false, "zero": false}, "axis": {"orient": "bottom", "values": [0,0.2,0.4,0.6,0.8], "tickSize": -9, "tickWidth": 1.5, "tickColor": "#000000", "domain": false, "labels": false, "title": null, "grid": false}},
   "y": {"datum": 0, "type": "quantitative", "scale": {"domain": [0, 60], "nice": false, "zero": false}, "axis": {"orient": "left", "values": [0,8.57,17.14,25.71,34.29,42.86,51.43,60], "tickSize": -14, "tickWidth": 1.5, "tickColor": "#000000", "domain": false, "labels": false, "grid": false, "title": null}}, "y2": {"datum": 60}}},
 {"data": {"name": "d"}, "transform": [{"filter": "datum.p==='Ab'&&datum.s==='r'"}], "mark": {"type": "rule", "color": "#ff0000", "strokeWidth": 1.6, "strokeDash": [9, 4]},
  "encoding": {"x": {"field": "v", "type": "quantitative", "scale": {"domain": [-0.027, 0.8], "nice": false, "zero": false}, "axis": {"orient": "top", "values": [0,0.2,0.4,0.6,0.8], "tickSize": -9, "tickWidth": 1.5, "tickColor": "#000000", "domain": false, "labels": false, "title": null, "grid": false}},
   "y": {"datum": 0, "type": "quantitative", "scale": {"domain": [0, 60], "nice": false, "zero": false}, "axis": {"orient": "right", "values": [0,8.57,17.14,25.71,34.29,42.86,51.43,60], "tickSize": -12, "tickWidth": 1.5, "tickColor": "#000000", "domain": false, "labels": false, "grid": false, "title": null}}, "y2": {"datum": 60}}},
 {"data": {"name": "lab"}, "transform": [{"filter": "datum.p==='Ab'"}], "mark": {"type": "text", "font": "Liberation Sans", "fontSize": 21, "color": "#000000", "align": "center", "baseline": "alphabetic"},
  "encoding": {"x": {"datum": 0.705, "type": "quantitative", "scale": {"domain": [-0.027, 0.8], "nice": false, "zero": false}, "axis": {"orient": "bottom", "values": [0,0.2,0.4,0.6,0.8], "format": ".1f", "ticks": false, "tickSize": 0, "domain": false, "labels": true, "labelFont": "Liberation Sans", "labelFontSize": 22, "labelColor": "#000000", "labelPadding": 17, "labelFlush": false, "labelOverlap": false, "grid": false, "title": "E(B−V)", "titleFont": "Liberation Sans", "titleFontSize": 22, "titleFontWeight": "normal", "titleColor": "#000000", "titlePadding": 5}},
   "y": {"datum": 7, "type": "quantitative", "scale": {"domain": [0, 60], "nice": false, "zero": false}, "axis": null}, "text": {"field": "p", "type": "nominal"}}}
]}
]
}
